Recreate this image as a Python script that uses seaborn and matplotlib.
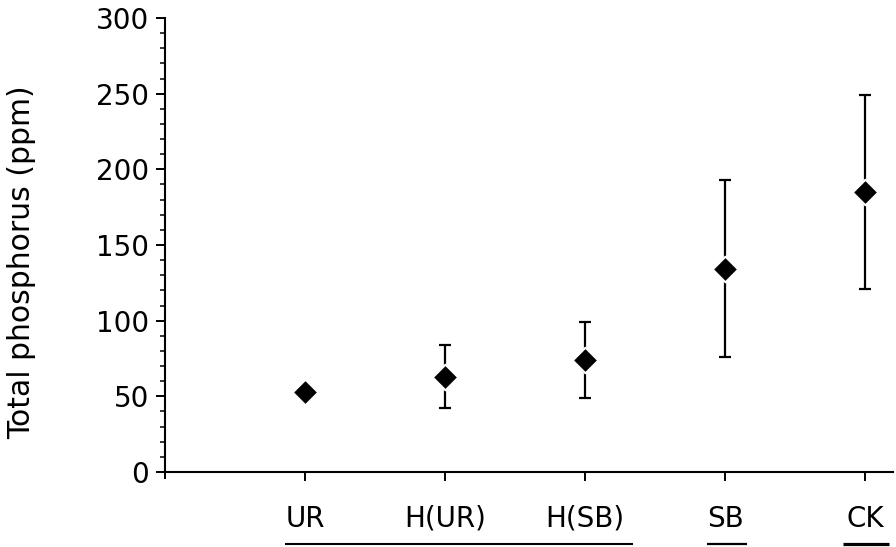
import matplotlib
matplotlib.use("Agg")
import matplotlib.pyplot as plt
import matplotlib.transforms as mtransforms
from matplotlib.ticker import MultipleLocator
import seaborn as sns
import pandas as pd

# values (ppm)
sites = ["UR", "H(UR)", "H(SB)", "SB", "CK"]
mean_p = [53, 63, 74, 134, 185]
low_p = [53, 42, 49, 76, 121]
high_p = [53, 84, 99, 193, 249]

# sites that are not different from each other get one line underneath
groups = [("UR", "H(SB)"), ("SB", "SB"), ("CK", "CK")]

sns.set_theme(style="ticks")
plt.rcParams["font.family"] = ["DejaVu Sans"]

df = pd.DataFrame({"site": sites, "p": mean_p, "lo": low_p, "hi": high_p})

fig = plt.figure(figsize=(8.96, 5.47), dpi=100)
ax = fig.add_axes([0.1842, 0.1371, 0.8125, 0.830])

yerr = [df.p - df.lo, df.hi - df.p]
ax.errorbar(df.site, df.p, yerr=yerr, fmt="none", ecolor="black",
            elinewidth=1.6, capsize=4.5, capthick=1.6, zorder=2)
sns.scatterplot(data=df, x="site", y="p", marker="D", s=170, color="black",
                edgecolor="white", linewidth=1.5, zorder=3, ax=ax, legend=False)

ax.set_xlim(-1, 4.2)
ax.set_ylim(0, 300)
ax.yaxis.set_major_locator(MultipleLocator(50))
ax.yaxis.set_minor_locator(MultipleLocator(10))
ax.set_xticks([-1], minor=True)

sns.despine(ax=ax)
for s in ["left", "bottom"]:
    ax.spines[s].set_linewidth(1.5)
    ax.spines[s].set_color("black")

ax.tick_params(axis="both", which="major", length=6.5, width=1.4,
               color="black", labelsize=20, labelcolor="black")
ax.tick_params(axis="y", which="minor", length=3.5, width=1.1, color="black")
ax.tick_params(axis="x", which="minor", length=5, width=1.4, color="black")
ax.tick_params(axis="x", which="major", pad=17)
ax.tick_params(axis="y", which="major", pad=5)

ax.set_xlabel("")
ax.set_ylabel("Total phosphorus (ppm)", fontsize=21.5, color="black")
ax.yaxis.set_label_coords(-0.177, 0.462)

# underlines for the groupings
trans = mtransforms.blended_transform_factory(ax.transData, ax.transAxes)
pads = [(-0.14, 0.34, 1.5), (-0.13, 0.16, 1.6), (-0.16, 0.17, 2.3)]
for (a, b), (pl, pr, lw) in zip(groups, pads):
    i0, i1 = sites.index(a), sites.index(b)
    ax.plot([i0 + pl, i1 + pr], [-0.158, -0.158], color="black", lw=lw,
            transform=trans, clip_on=False, solid_capstyle="butt")

fig.savefig("out.png", dpi=100, facecolor="white")
